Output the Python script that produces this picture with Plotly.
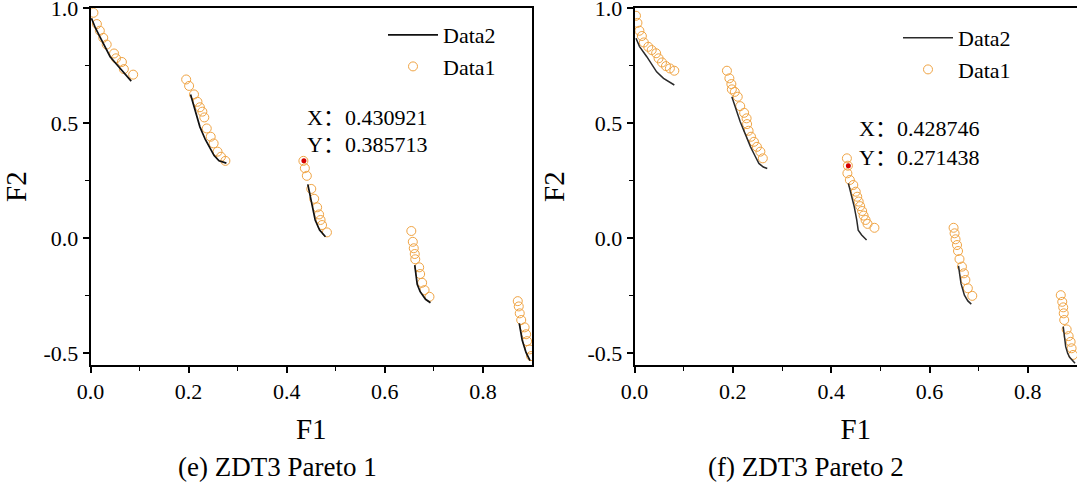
import plotly.graph_objects as go

# ---------------- data ----------------
# Panel (e) ZDT3 Pareto 1 — Data1: open circles, one list per front segment
e_d1_x = [
    [0.006, 0.013, 0.019, 0.026, 0.033, 0.048, 0.052, 0.064, 0.068, 0.087],
    [0.195, 0.201, 0.211, 0.218, 0.223, 0.228, 0.232, 0.237, 0.245, 0.251, 0.259, 0.266, 0.275],
    [0.434, 0.437, 0.441, 0.450, 0.456, 0.462, 0.466, 0.469, 0.472, 0.482],
    [0.654, 0.657, 0.659, 0.661, 0.662, 0.670, 0.672, 0.676, 0.681, 0.691],
    [0.871, 0.873, 0.875, 0.878, 0.885, 0.888, 0.890, 0.895, 0.898],
]
e_d1_y = [
    [0.981, 0.932, 0.903, 0.872, 0.843, 0.804, 0.783, 0.767, 0.736, 0.712],
    [0.691, 0.663, 0.626, 0.594, 0.570, 0.551, 0.526, 0.478, 0.442, 0.413, 0.377, 0.355, 0.337],
    [0.337, 0.305, 0.272, 0.215, 0.172, 0.135, 0.104, 0.080, 0.058, 0.026],
    [0.032, -0.015, -0.043, -0.068, -0.091, -0.126, -0.155, -0.193, -0.225, -0.254],
    [-0.273, -0.296, -0.326, -0.355, -0.387, -0.417, -0.447, -0.483, -0.512],
]
# Data2: solid line segments
e_d2_x = [
    [0.002, 0.010, 0.019, 0.030, 0.040, 0.050, 0.060, 0.070, 0.083],
    [0.204, 0.213, 0.223, 0.234, 0.244, 0.252, 0.262, 0.277],
    [0.443, 0.447, 0.451, 0.455, 0.458, 0.467, 0.479],
    [0.661, 0.663, 0.666, 0.672, 0.683, 0.693],
    [0.874, 0.877, 0.880, 0.884, 0.888, 0.896],
]
e_d2_y = [
    [0.957, 0.915, 0.877, 0.830, 0.790, 0.765, 0.740, 0.715, 0.684],
    [0.626, 0.560, 0.485, 0.430, 0.391, 0.360, 0.337, 0.327],
    [0.235, 0.190, 0.152, 0.110, 0.080, 0.036, 0.007],
    [-0.116, -0.160, -0.200, -0.232, -0.265, -0.280],
    [-0.370, -0.410, -0.442, -0.470, -0.497, -0.532],
]
e_pick_x = [0.435]
e_pick_y = [0.337]
e_pick_text = ["X：0.430921", "Y：0.385713"]

# Panel (f) ZDT3 Pareto 2
f_d1_x = [
    [0.003, 0.006, 0.010, 0.015, 0.019, 0.028, 0.035, 0.044, 0.049, 0.056, 0.064, 0.072, 0.081],
    [0.188, 0.193, 0.197, 0.198, 0.204, 0.210, 0.215, 0.223, 0.228, 0.229, 0.232, 0.237, 0.243, 0.249, 0.256, 0.261],
    [0.432, 0.434, 0.433, 0.438, 0.445, 0.450, 0.453, 0.456, 0.459, 0.463, 0.466, 0.470, 0.474, 0.488],
    [0.649, 0.651, 0.653, 0.656, 0.658, 0.661, 0.666, 0.670, 0.673, 0.678, 0.687],
    [0.867, 0.870, 0.872, 0.873, 0.874, 0.879, 0.883, 0.887, 0.889, 0.892],
]
f_d1_y = [
    [0.968, 0.937, 0.903, 0.880, 0.852, 0.833, 0.819, 0.805, 0.783, 0.765, 0.749, 0.739, 0.729],
    [0.729, 0.696, 0.671, 0.648, 0.637, 0.616, 0.575, 0.546, 0.522, 0.497, 0.468, 0.442, 0.420, 0.398, 0.377, 0.348],
    [0.348, 0.316, 0.283, 0.254, 0.232, 0.203, 0.181, 0.160, 0.140, 0.119, 0.099, 0.080, 0.063, 0.046],
    [0.046, 0.022, -0.004, -0.029, -0.055, -0.090, -0.123, -0.152, -0.181, -0.217, -0.250],
    [-0.247, -0.276, -0.300, -0.326, -0.355, -0.396, -0.425, -0.450, -0.478, -0.507],
]
f_d2_x = [
    [0.003, 0.010, 0.025, 0.035, 0.045, 0.059, 0.081],
    [0.198, 0.206, 0.215, 0.226, 0.236, 0.246, 0.253, 0.262, 0.270],
    [0.435, 0.441, 0.447, 0.452, 0.455, 0.462, 0.472],
    [0.659, 0.662, 0.664, 0.671, 0.678, 0.685],
    [0.872, 0.875, 0.877, 0.881, 0.885, 0.896],
]
f_d2_y = [
    [0.870, 0.835, 0.790, 0.755, 0.724, 0.696, 0.667],
    [0.616, 0.560, 0.507, 0.450, 0.398, 0.355, 0.326, 0.310, 0.304],
    [0.239, 0.190, 0.137, 0.080, 0.036, 0.015, -0.007],
    [-0.120, -0.165, -0.196, -0.247, -0.272, -0.286],
    [-0.384, -0.430, -0.471, -0.500, -0.517, -0.543],
]
f_pick_x = [0.435]
f_pick_y = [0.316]
f_pick_text = ["X：0.428746", "Y：0.271438"]

captions = ["(e) ZDT3 Pareto 1", "(f) ZDT3 Pareto 2"]
x_tickvals = [0.0, 0.2, 0.4, 0.6, 0.8]
x_ticktext = ["0.0", "0.2", "0.4", "0.6", "0.8"]
x_minor = [0.1, 0.3, 0.5, 0.7]
y_tickvals = [-0.5, 0.0, 0.5, 1.0]
y_ticktext = ["-0.5", "0.0", "0.5", "1.0"]
y_minor = [-0.25, 0.25, 0.75]
x_range = [0, 0.9]
y_range = [-0.5507, 1.0005]

# ---------------- figure ----------------
W, H = 1077, 483
FONT = "Liberation Serif"
CJK_FONT = "Liberation Serif, Noto Sans CJK SC"
ORANGE = "#F0A444"


def join(segs):
    out = []
    for i, s in enumerate(segs):
        if i:
            out.append(None)
        out.extend(s)
    return out


fig = go.Figure()
panels = [
    dict(xa="x", ya="y", lg="legend", d1x=e_d1_x, d1y=e_d1_y, d2x=e_d2_x, d2y=e_d2_y,
         px=e_pick_x, py=e_pick_y, lc="#111111", lw=1.7),
    dict(xa="x2", ya="y2", lg="legend2", d1x=f_d1_x, d1y=f_d1_y, d2x=f_d2_x, d2y=f_d2_y,
         px=f_pick_x, py=f_pick_y, lc="#2a2a2a", lw=1.5),
]
for p in panels:
    fig.add_trace(go.Scatter(
        x=join(p["d1x"]), y=join(p["d1y"]), mode="markers", name="Data1",
        marker=dict(symbol="circle-open", size=9, color=ORANGE, line=dict(width=1)),
        xaxis=p["xa"], yaxis=p["ya"], legend=p["lg"], legendrank=2))
    fig.add_trace(go.Scatter(
        x=join(p["d2x"]), y=join(p["d2y"]), mode="lines", name="Data2",
        line=dict(color=p["lc"], width=p["lw"]), connectgaps=False,
        xaxis=p["xa"], yaxis=p["ya"], legend=p["lg"], legendrank=1))
    fig.add_trace(go.Scatter(
        x=p["px"], y=p["py"], mode="markers", showlegend=False,
        marker=dict(color="#D40000", size=5),
        xaxis=p["xa"], yaxis=p["ya"]))

ydom = [1 - 365 / H, 1 - 8.3 / H]
common_x = dict(range=x_range, tickmode="array", tickvals=x_tickvals, ticktext=x_ticktext,
                ticks="outside", ticklen=6, tickwidth=1.5, tickcolor="black",
                minor=dict(tickmode="array", tickvals=x_minor, ticks="outside", ticklen=4,
                           tickwidth=1.3, tickcolor="black"),
                showline=True, linewidth=1.5, linecolor="black",
                showgrid=False, zeroline=False, automargin=False, ticklabeloverflow="allow",
                tickfont=dict(family=FONT, size=22, color="black"),
                title=dict(text="F1", font=dict(family=FONT, size=29, color="black"), standoff=16))
common_y = dict(range=y_range, domain=ydom, tickmode="array", tickvals=y_tickvals, ticktext=y_ticktext,
                ticks="outside", ticklen=6, tickwidth=1.5, tickcolor="black",
                minor=dict(tickmode="array", tickvals=y_minor, ticks="outside", ticklen=4,
                           tickwidth=1.3, tickcolor="black"),
                showline=True, linewidth=1.5, linecolor="black",
                showgrid=False, zeroline=False, automargin=False, ticklabeloverflow="allow",
                tickfont=dict(family=FONT, size=22, color="black"),
                title=dict(text="F2", font=dict(family=FONT, size=29, color="black"), standoff=14))

fig.update_layout(
    template="none",
    width=W, height=H, margin=dict(l=0, r=0, t=0, b=0, autoexpand=False),
    paper_bgcolor="white", plot_bgcolor="white",
    xaxis=dict(common_x, domain=[90.5 / W, 532 / W], anchor="y", mirror=True),
    yaxis=dict(common_y, anchor="x", mirror=True),
    xaxis2=dict(common_x, domain=[634.5 / W, 1.0], anchor="y2", mirror=True),
    yaxis2=dict(common_y, anchor="x2", mirror=False),
    legend=dict(x=383 / W, y=1 - 14 / H, xanchor="left", yanchor="top",
                font=dict(family=FONT, size=22, color="black"), bgcolor="rgba(0,0,0,0)",
                itemwidth=50, tracegroupgap=0),
    legend2=dict(x=898 / W, y=1 - 17 / H, xanchor="left", yanchor="top",
                 font=dict(family=FONT, size=22, color="black"), bgcolor="rgba(0,0,0,0)",
                 itemwidth=50, tracegroupgap=0),
    showlegend=True,
)

# pick-point readouts
ann_pos = [(305, 118, 145, e_pick_text), (857, 128, 157, f_pick_text)]
for x0, yx, yy, txt in ann_pos:
    for yc, t in zip((yx, yy), txt):
        fig.add_annotation(x=x0 / W, y=1 - yc / H, xref="paper", yref="paper",
                           xanchor="left", yanchor="middle", showarrow=False, text=t,
                           font=dict(family=CJK_FONT, size=22, color="black"))

# sub-figure captions
for cx, cap in zip((277, 806), captions):
    fig.add_annotation(x=cx / W, y=1 - 467 / H, xref="paper", yref="paper",
                       xanchor="center", yanchor="middle", showarrow=False, text=cap,
                       font=dict(family=FONT, size=27, color="black"))

fig.write_html("out.html")
